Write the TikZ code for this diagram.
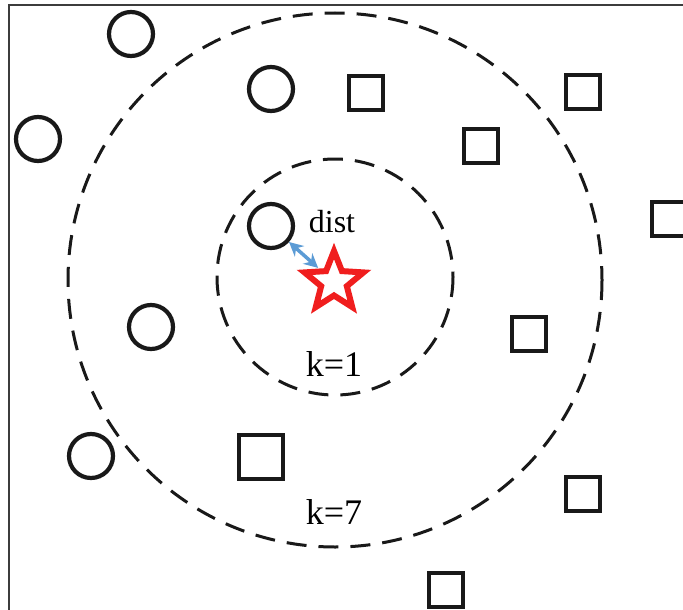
\documentclass[tikz,border=0pt]{standalone}
\usepackage{fontspec}
\setmainfont{Liberation Serif}
\usetikzlibrary{shapes.geometric,arrows.meta}
\definecolor{ink}{RGB}{25,25,25}
\definecolor{frame}{RGB}{60,60,60}
\definecolor{distblue}{RGB}{91,155,213}
\definecolor{starred}{RGB}{240,30,30}
\tikzset{
  pt/.style={circle,draw=ink,line width=4.2pt,minimum size=44pt,inner sep=0pt},
  sq/.style={rectangle,draw=ink,line width=4.2pt,minimum size=34pt,inner sep=0pt},
  ring/.style={draw=ink,line width=3pt,dash pattern=on 20pt off 12pt},
  lab/.style={font=\fontsize{36}{40}\selectfont,inner sep=0pt},
}
\begin{document}
\begin{tikzpicture}[x=1pt,y=-1pt]
\useasboundingbox (0,0) rectangle (683,610);
\fill[white] (0,0) rectangle (683,610);
% frame
\draw[frame,line width=1.8pt] (9,615) coordinate (fb) -- (9,5) coordinate (fc) -- (690,5) coordinate (fr);
% rings
\draw[ring] (335,280) circle[radius=267];
\draw[ring] (335,277) circle[radius=118];
% circles
\node[pt] (c1) at (131,34) {};
\node[pt] (c2) at (271,89) {};
\node[pt] (c3) at (38,139) {};
\node[pt] (c4) at (271,226) {};
\node[pt] (c5) at (151,327) {};
\node[pt] (c6) at (91,456) {};
% squares
\node[sq] (s1) at (366,93) {};
\node[sq] (s2) at (583,92) {};
\node[sq] (s3) at (481,146) {};
\node[sq] (s4) at (669,219) {};
\node[sq] (s5) at (529,334) {};
\node[sq,minimum size=44pt] (s6) at (261,457) {};
\node[sq] (s7) at (583,494) {};
\node[sq] (s8) at (446,590) {};
% star
\node[star,star points=5,star point ratio=2.3,draw=starred,fill=white,line width=6pt,minimum size=62pt,inner sep=0pt] (st) at (334,282) {};
% arrow
\draw[distblue,line width=3.5pt,{Stealth[length=14pt,width=14pt]}-{Stealth[length=14pt,width=14pt]},shorten >=1pt] (c4) -- (st);
% labels
\node[lab,font=\fontsize{32}{36}\selectfont] (ld) at (332,222) {dist};
\node[lab] (l1) at (334,364) {k=1};
\node[lab] (l7) at (334,512) {k=7};
\end{tikzpicture}
\end{document}
